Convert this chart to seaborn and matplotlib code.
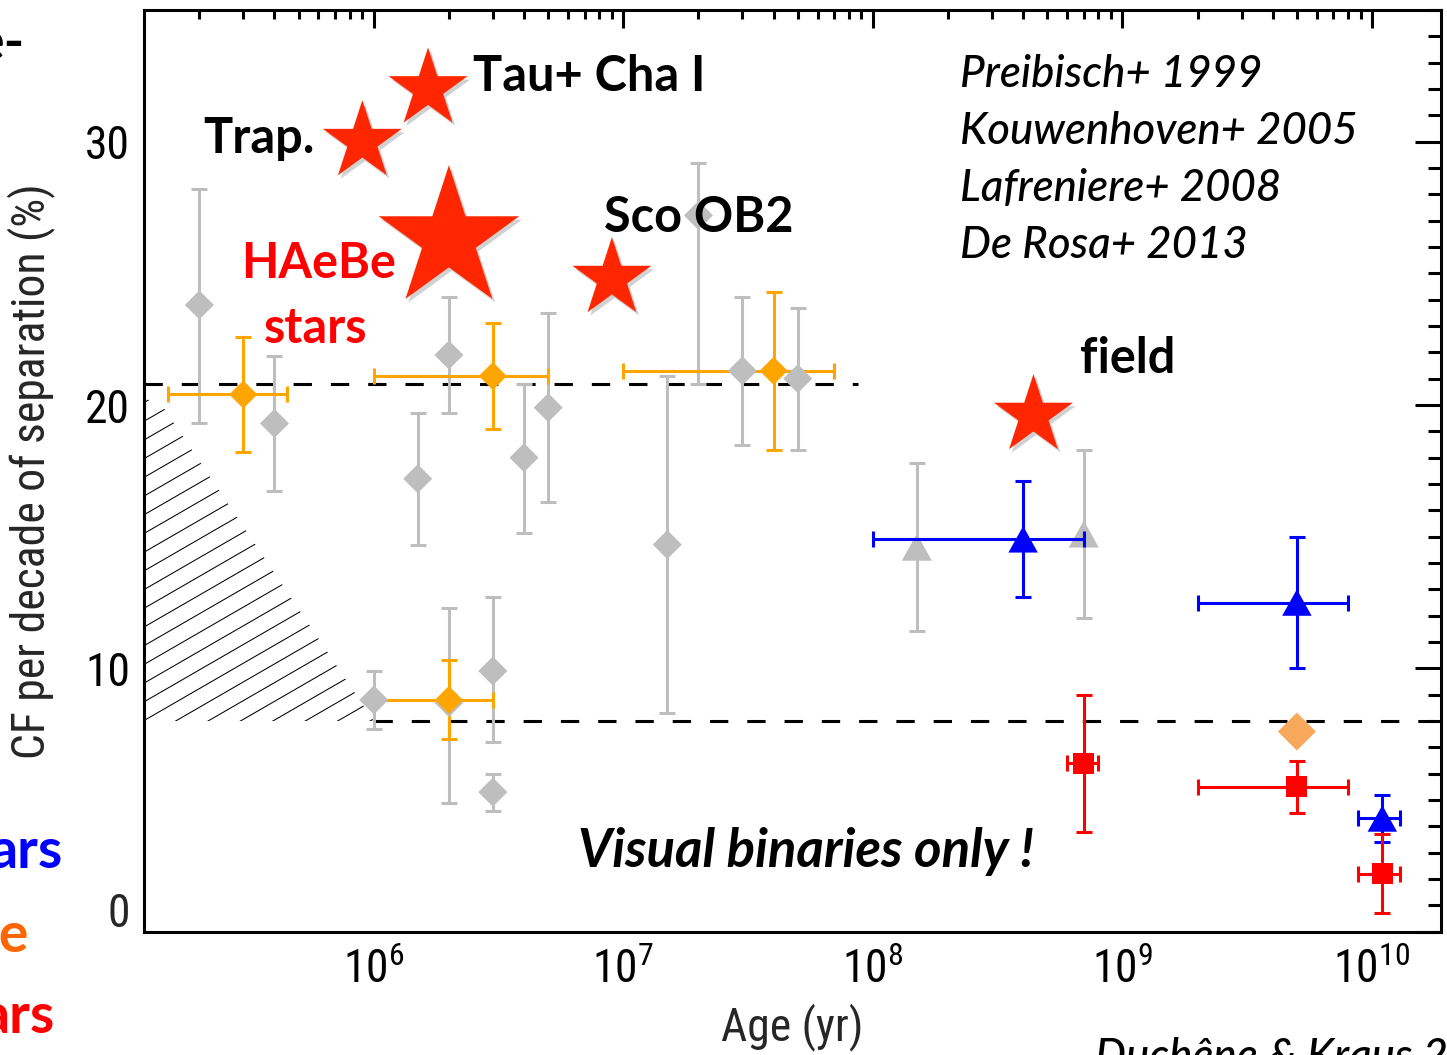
import numpy as np
import pandas as pd
import matplotlib
matplotlib.use("Agg")
import matplotlib.pyplot as plt
import matplotlib.patheffects as pe
from matplotlib import font_manager
from matplotlib.collections import LineCollection
from matplotlib.markers import MarkerStyle
from matplotlib.path import Path
from matplotlib.textpath import TextToPath
from matplotlib.ticker import (FixedLocator, LogLocator, MultipleLocator,
                               FuncFormatter, NullFormatter)
import seaborn as sns

# ---------------- data ----------------
# earlier surveys (grey diamonds): age [yr], companion frequency [%], errors
gray_age = [2e5, 4e5, 1e6, 1.5e6, 2e6, 2e6, 3e6, 3e6, 4e6, 5e6, 1.5e7, 2e7, 3e7, 5e7]
gray_cf = [23.8, 19.3, 8.8, 17.2, 21.9, 8.7, 9.9, 5.3, 18.0, 19.9, 14.7, 27.2, 21.3, 21.0]
gray_err_lo = [4.5, 2.55, 1.1, 2.5, 2.2, 3.8, 2.7, 0.7, 2.85, 3.6, 6.4, 6.4, 2.8, 2.7]
gray_err_hi = [4.4, 2.55, 1.1, 2.5, 2.2, 3.6, 2.8, 0.7, 2.8, 3.6, 6.4, 2.0, 2.8, 2.7]

# earlier surveys (grey triangles)
gray_tri_age = [1.5e8, 7e8]
gray_tri_cf = [14.6, 15.1]
gray_tri_err = [3.2, 3.2]

# orange diamonds with age ranges
orange_age = [3e5, 2e6, 3e6, 4e7]
orange_cf = [20.4, 8.8, 21.1, 21.3]
orange_age_lo = [1.5e5, 1e6, 1e6, 1e7]
orange_age_hi = [4.5e5, 3e6, 5e6, 7e7]
orange_err = [2.2, 1.5, 2.0, 3.0]

# field value without error bars
light_orange_age = [5e9]
light_orange_cf = [7.6]

# blue triangles
blue_age = [4e8, 5e9, 1.1e10]
blue_cf = [14.9, 12.5, 4.3]
blue_age_lo = [1e8, 2e9, 8.8e9]
blue_age_hi = [7e8, 8e9, 1.3e10]
blue_err = [2.2, 2.5, 0.9]

# red squares
red_age = [7e8, 5e9, 1.1e10]
red_cf = [6.4, 5.5, 2.2]
red_age_lo = [6e8, 2e9, 8.8e9]
red_age_hi = [8e8, 8e9, 1.3e10]
red_err = [2.6, 1.0, 1.5]

# intermediate-mass stars (red stars)
star_names = ["Trap.", "Tau+ Cha I", "HAeBe", "Sco OB2", "field"]
star_age = [9e5, 1.65e6, 2e6, 9e6, 4.4e8]
star_cf = [30.0, 32.0, 26.3, 24.8, 19.6]
star_scale = [1.0, 1.0, 1.78, 1.0, 1.0]

# reference levels and the incompleteness region
upper_level = 20.8
upper_level_range = [1.2e5, 8.7e7]
lower_level = 8.0
lower_level_range = [1e6, 1.89e10]
hatch_age = [1.2e5, 1.45e5, 1e6, 1.2e5]
hatch_cf = [20.3, 19.85, 8.0, 8.0]

references = ["Preibisch+ 1999", "Kouwenhoven+ 2005",
              "Lafreniere+ 2008", "De Rosa+ 2013"]

X_LABEL = "Age (yr)"
Y_LABEL = "CF per decade of separation (%)"

# ---------------- fonts ----------------
sns.set_style("white")
entries = font_manager.fontManager.ttflist
names = {f.name for f in entries}
axis_family, axis_stretch = "Liberation Sans", "normal"
for n in ["Liberation Sans Narrow", "Arial Narrow", "Roboto Condensed",
          "Noto Sans Condensed", "Open Sans Condensed", "DejaVu Sans Condensed"]:
    if n in names:
        axis_family = n
        break
else:
    found = False
    for fam in ["Noto Sans", "Roboto", "Open Sans", "Liberation Sans", "DejaVu Sans"]:
        for st in ["condensed", "semi-condensed"]:
            if any(f.name == fam and str(f.stretch) == st and f.style == "normal"
                   for f in entries):
                axis_family, axis_stretch = fam, st
                found = True
                break
        if found:
            break

LABEL_FONT = "Lato" if "Lato" in names else "Open Sans"
plt.rcParams["font.family"] = [axis_family, "DejaVu Sans"]
plt.rcParams["font.stretch"] = axis_stretch
plt.rcParams["mathtext.default"] = "regular"

# size the axis font so the y label spans the same length as the axis text block
_prop = font_manager.FontProperties(family=axis_family, stretch=axis_stretch, size=35)
_w_pt, _, _ = TextToPath().get_text_width_height_descent(Y_LABEL, _prop, ismath=False)
AXIS_SIZE = float(np.clip(35 * 575 / (_w_pt * 100 / 72), 27, 36))

GRAY = "#BEBEBE"
ORANGE = "#FFA500"
LIGHT_ORANGE = "#F8A85A"
BLUE = "#0000FF"
RED = "#FF0000"
STAR_RED = "#FF2600"
LW = 2.2

W, H, DPI = 1447, 1055, 100
fig = plt.figure(figsize=(W / DPI, H / DPI), dpi=DPI)
ax = fig.add_axes([144 / W, 1 - 931.7 / H, (1441 - 144) / W, (931.7 - 10) / H])


def px(x, y):
    """Figure-fraction position from pixel coordinates (origin top-left)."""
    return x / W, 1 - y / H


ax.set_xscale("log")
ax.set_xlim(1.2e5, 1.89e10)
ax.set_ylim(0, 35)

# hatched incompleteness region, 30-degree lines clipped to the polygon
poly = ax.fill(hatch_age, hatch_cf, facecolor="none", edgecolor="none", zorder=1)[0]
bb = ax.get_position()
aw, ah = bb.width * W, bb.height * H
spacing = 32.4
ang = np.deg2rad(30)
segs = []
for k in range(-80, 80):
    x0, y0 = 1 + k * spacing, 211.7
    xa, ya = x0 - 2000 * np.cos(ang), y0 - 2000 * np.sin(ang)
    xb, yb = x0 + 2000 * np.cos(ang), y0 + 2000 * np.sin(ang)
    segs.append([(xa / aw, ya / ah), (xb / aw, yb / ah)])
lc = LineCollection(segs, colors="k", linewidths=0.75, transform=ax.transAxes, zorder=1)
ax.add_collection(lc)
lc.set_clip_path(poly)

# reference levels
dash = (0, (6, 6.2))
ax.hlines(upper_level, *upper_level_range, colors="k", linestyles=dash, linewidth=LW, zorder=2)
ax.hlines(lower_level, *lower_level_range, colors="k", linestyles=dash, linewidth=LW, zorder=2)

eb_kw = dict(fmt="none", elinewidth=LW, capsize=5.8, capthick=LW)


def xerr_from(age, lo, hi):
    age = np.asarray(age)
    return [age - np.asarray(lo), np.asarray(hi) - age]


ax.errorbar(gray_age, gray_cf, yerr=[gray_err_lo, gray_err_hi], ecolor=GRAY, zorder=3, **eb_kw)
ax.errorbar(gray_tri_age, gray_tri_cf, yerr=gray_tri_err, ecolor=GRAY, zorder=3, **eb_kw)
ax.errorbar(orange_age, orange_cf, yerr=orange_err,
            xerr=xerr_from(orange_age, orange_age_lo, orange_age_hi),
            ecolor=ORANGE, zorder=3.5, **eb_kw)
ax.errorbar(blue_age, blue_cf, yerr=blue_err,
            xerr=xerr_from(blue_age, blue_age_lo, blue_age_hi),
            ecolor=BLUE, zorder=5, **eb_kw)
ax.errorbar(red_age, red_cf, yerr=red_err,
            xerr=xerr_from(red_age, red_age_lo, red_age_hi),
            ecolor=RED, zorder=5, **eb_kw)

triangle = MarkerStyle(Path([(-1, -0.9), (1, -0.9), (0, 0.9), (-1, -0.9)],
                            [Path.MOVETO, Path.LINETO, Path.LINETO, Path.CLOSEPOLY]))

sc_kw = dict(linewidth=0, edgecolor="none", legend=False, ax=ax)
sns.scatterplot(x=gray_age, y=gray_cf, marker="D", s=219, color=GRAY, zorder=4, **sc_kw)
sns.scatterplot(x=gray_tri_age, y=gray_tri_cf, marker=triangle, s=467, color=GRAY, zorder=4, **sc_kw)
sns.scatterplot(x=orange_age, y=orange_cf, marker="D", s=204, color=ORANGE, zorder=4.5, **sc_kw)
sns.scatterplot(x=light_orange_age, y=light_orange_cf, marker="D", s=374, color=LIGHT_ORANGE, zorder=4.5, **sc_kw)
sns.scatterplot(x=blue_age, y=blue_cf, marker=triangle, s=450, color=BLUE, zorder=6, **sc_kw)
sns.scatterplot(x=red_age, y=red_cf, marker="s", s=229, color=RED, zorder=6, **sc_kw)

n_before = len(ax.collections)
sns.scatterplot(x=star_age, y=star_cf, marker="*", s=3576 * np.square(star_scale),
                color=STAR_RED, zorder=7, **sc_kw)
for coll in ax.collections[n_before:]:
    coll.set_path_effects([pe.SimplePatchShadow(offset=(2, -2.5), shadow_rgbFace="k", alpha=0.18),
                           pe.Normal()])

# ---------------- axes ----------------
ax.xaxis.set_major_locator(FixedLocator([1e6, 1e7, 1e8, 1e9, 1e10]))
ax.xaxis.set_minor_locator(LogLocator(base=10, subs=np.arange(2, 10), numticks=30))
ax.xaxis.set_major_formatter(FuncFormatter(lambda v, p: r"$\mathregular{10^{%d}}$" % round(np.log10(v))))
ax.xaxis.set_minor_formatter(NullFormatter())
ax.set_yticks([0, 10, 20, 30])
ax.set_yticklabels(["", "10", "20", "30"])
ax.yaxis.set_minor_locator(MultipleLocator(1))

ax.tick_params(axis="both", which="both", direction="in", top=True, right=True,
               width=LW, color="k", labelsize=AXIS_SIZE, labelcolor="k")
ax.tick_params(axis="x", which="major", length=13, pad=11)
ax.tick_params(axis="x", which="minor", length=6.5)
ax.tick_params(axis="y", which="major", length=18.7, pad=10)
ax.tick_params(axis="y", which="minor", length=9.4)
for s in ax.spines.values():
    s.set_linewidth(LW)
    s.set_color("k")
    s.set_visible(True)

# zero label sits a little above its tick
ax.annotate("0", xy=(0, 0), xycoords=("axes fraction", "data"), xytext=(-10, 13),
            textcoords="offset points", ha="right", va="center", fontsize=AXIS_SIZE)

ax.set_xlabel(X_LABEL, fontsize=AXIS_SIZE)
ax.set_ylabel(Y_LABEL, fontsize=AXIS_SIZE)
ax.xaxis.set_label_coords(0.5, -0.077)
ax.yaxis.set_label_coords(-0.069, 0.5)

# ---------------- annotations ----------------
label_family = [LABEL_FONT, "DejaVu Sans"]
bold = dict(family=label_family, fontweight="bold", fontsize=35,
            va="baseline", ha="left", zorder=10)
label_pos = {"Trap.": (203, 153), "Tau+ Cha I": (473, 91), "Sco OB2": (604, 232),
             "field": (1080, 373)}
for name in star_names:
    if name in label_pos:
        fig.text(*px(*label_pos[name]), name, color="k", **bold)
fig.text(*px(241, 278), "HAeBe", color=RED, **bold)
fig.text(*px(264, 343), "stars", color=RED, **bold)

for i, ref in enumerate(references):
    fig.text(*px(960, 87 + 57 * i), ref, family=label_family, color="k",
             style="italic", fontweight="medium", fontsize=31.5, va="baseline", ha="left")

fig.text(*px(578, 867), "Visual binaries only !", family=label_family, color="k",
         style="italic", fontweight="bold", fontsize=38, va="baseline", ha="left")

fig.text(*px(1095, 1070), "Duchêne & Kraus 2013", family=label_family, color="k",
         style="italic", fontweight="medium", fontsize=31.5, va="baseline", ha="left")

# legend text continuing from the left margin
frag = dict(family=label_family, fontweight="bold", fontsize=40,
            va="baseline", ha="right")
fig.text(*px(24, 60), "e-", color="k", **frag)
fig.text(*px(63, 868), "ars", color=BLUE, **frag)
fig.text(*px(29, 952), "re", color="#FF6600", **frag)
fig.text(*px(55, 1033), "ars", color=RED, **frag)

fig.savefig("out.png", dpi=DPI)
